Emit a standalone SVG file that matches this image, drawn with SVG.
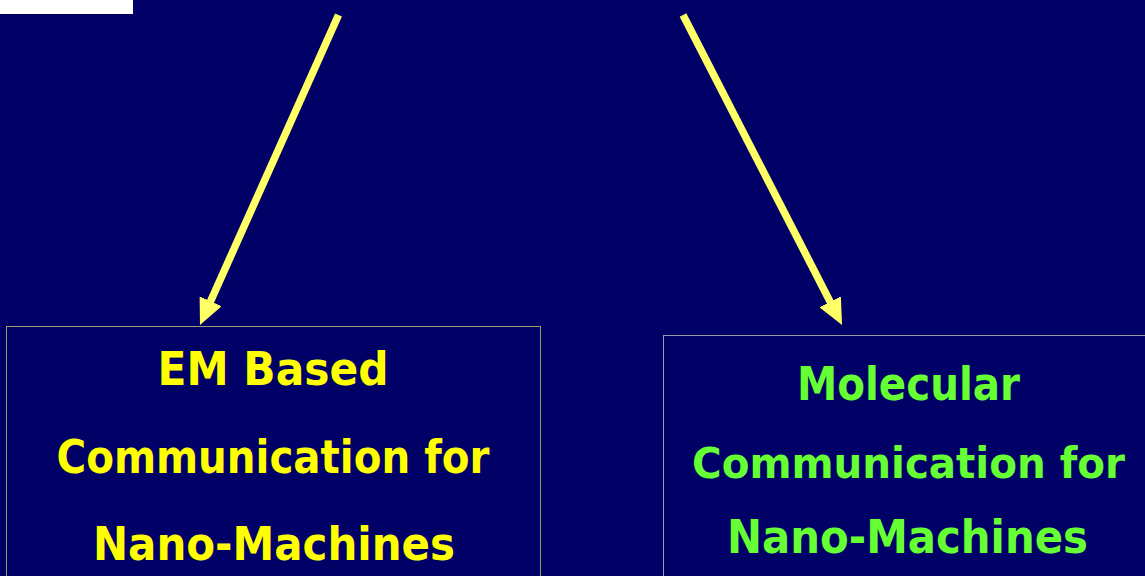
<svg xmlns="http://www.w3.org/2000/svg" width="1145" height="576" viewBox="0 0 1145 576">
<defs>
<style>
.t{font-family:"Comic Sans MS","DejaVu Sans",sans-serif;font-weight:bold;font-size:46px;text-anchor:middle}
.em{fill:#ffff00}
.mol{fill:#66ff33}
.arr{stroke:#ffff66;stroke-width:7.5;fill:none}
</style>
<marker id="ah" markerUnits="userSpaceOnUse" markerWidth="26" markerHeight="24" refX="11" refY="12" orient="auto">
<path d="M0,0 L26,12 L0,24 z" fill="#ffff66"/>
</marker>
</defs>
<rect width="1145" height="576" fill="#000066"/>
<rect x="0" y="0" width="133" height="14" fill="#ffffff"/>
<g id="connectors">
<line class="arr" x1="338.5" y1="15" x2="206.1" y2="311.3" marker-end="url(#ah)"/>
<line class="arr" x1="683" y1="15" x2="835.2" y2="311.6" marker-end="url(#ah)"/>
</g>
<g id="em-node">
<rect x="6.5" y="326.5" width="534" height="260" fill="none" stroke="#99996a" stroke-width="1"/>
<text class="t em" x="273" y="385" textLength="231" lengthAdjust="spacingAndGlyphs">EM Based</text>
<text class="t em" x="273" y="473" textLength="433" lengthAdjust="spacingAndGlyphs">Communication for</text>
<text class="t em" x="274" y="560" textLength="362" lengthAdjust="spacingAndGlyphs">Nano-Machines</text>
</g>
<g id="molecular-node">
<rect x="663.5" y="335.5" width="500" height="260" fill="none" stroke="#9a9aaa" stroke-width="1"/>
<text class="t mol" x="908.5" y="400" textLength="223" lengthAdjust="spacingAndGlyphs">Molecular</text>
<text class="t mol" x="908.5" y="478" textLength="433" lengthAdjust="spacingAndGlyphs" style="font-size:42px">Communication for</text>
<text class="t mol" x="907.5" y="553" textLength="361" lengthAdjust="spacingAndGlyphs">Nano-Machines</text>
</g>
</svg>
